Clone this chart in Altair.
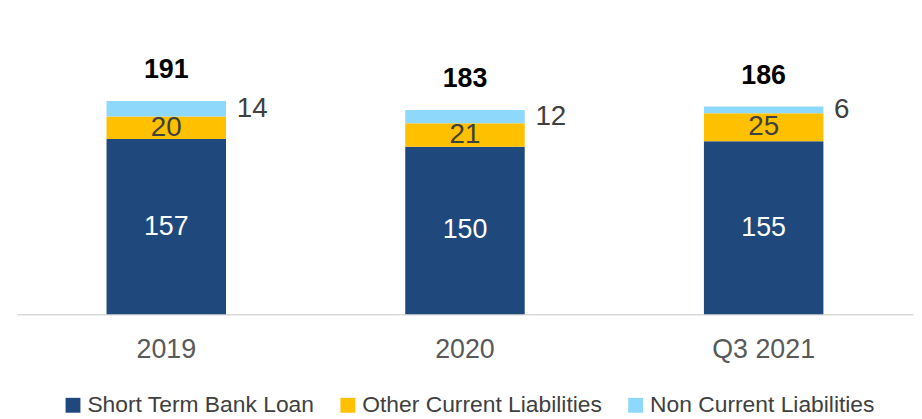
import altair as alt
import pandas as pd

categories = ["2019", "2020", "Q3 2021"]
series = ["Short Term Bank Loan", "Other Current Liabilities", "Non Current Liabilities"]
short_term = [157, 150, 155]
other_current = [20, 21, 25]
non_current = [14, 12, 6]
colors = ["#1F497D", "#FFC000", "#8ED8FC"]

rows = []
for i, c in enumerate(categories):
    for j, (s, vals) in enumerate(zip(series, [short_term, other_current, non_current])):
        rows.append({"cat": c, "series": s, "value": vals[i], "ord": j})
df = pd.DataFrame(rows)

FONT = "Liberation Sans"

x = alt.X("cat:N", sort=categories,
          scale=alt.Scale(paddingInner=0.6, paddingOuter=0.3),
          axis=alt.Axis(title=None, labelFontSize=27, labelColor="#595959",
                        labelPadding=23, ticks=False, domainColor="#D9D9D9",
                        domainWidth=1.5, labelAngle=0, labelFont=FONT))
yscale = alt.Scale(domain=[0, 248])

base = alt.Chart(df)

bars = base.mark_bar().encode(
    x=x,
    y=alt.Y("value:Q", stack="zero", scale=yscale, axis=None),
    color=alt.Color("series:N", scale=alt.Scale(domain=series, range=colors),
                    legend=alt.Legend(title=None, orient="none", direction="horizontal",
                                      legendX=45, legendY=359, symbolType="square",
                                      symbolSize=225, symbolStrokeWidth=0, symbolOpacity=1,
                                      labelFontSize=23, labelColor="#404040", labelFont=FONT,
                                      labelOffset=3, columnPadding=22, labelLimit=400)),
    order=alt.Order("ord:Q"),
)

stacked = base.transform_stack(
    stack="value", groupby=["cat"], as_=["v0", "v1"], sort=[alt.SortField("ord")]
).transform_calculate(mid="(datum.v0 + datum.v1) / 2")

lbl_dark = stacked.transform_filter(alt.datum.ord == 0).mark_text(
    fontSize=27, color="white", font=FONT, baseline="middle"
).encode(x=x, y=alt.Y("mid:Q", scale=yscale, axis=None), text="value:Q")

lbl_yel = stacked.transform_filter(alt.datum.ord == 1).mark_text(
    fontSize=28, color="#404040", font=FONT, baseline="middle"
).encode(x=x, y=alt.Y("mid:Q", scale=yscale, axis=None), text="value:Q")

lbl_lb = stacked.transform_filter(alt.datum.ord == 2).mark_text(
    fontSize=28, color="#404040", font=FONT, baseline="middle", align="left", dx=71
).encode(x=x, y=alt.Y("mid:Q", scale=yscale, axis=None), text="value:Q")

totals = base.transform_aggregate(total="sum(value)", groupby=["cat"]).mark_text(
    fontSize=27, fontWeight="bold", color="black", font=FONT, baseline="middle", dy=-31
).encode(x=x, y=alt.Y("total:Q", scale=yscale, axis=None), text="total:Q")

chart = alt.layer(bars, lbl_dark, lbl_yel, lbl_lb, totals).properties(
    width=903, height=279,
    autosize=alt.AutoSizeParams(type="none"),
    padding={"left": 9, "top": 28, "right": 1, "bottom": 104},
).configure(font=FONT, view=alt.ViewConfig(stroke=None))

chart.save("out.html", embed_options={"renderer": "svg", "actions": False})
